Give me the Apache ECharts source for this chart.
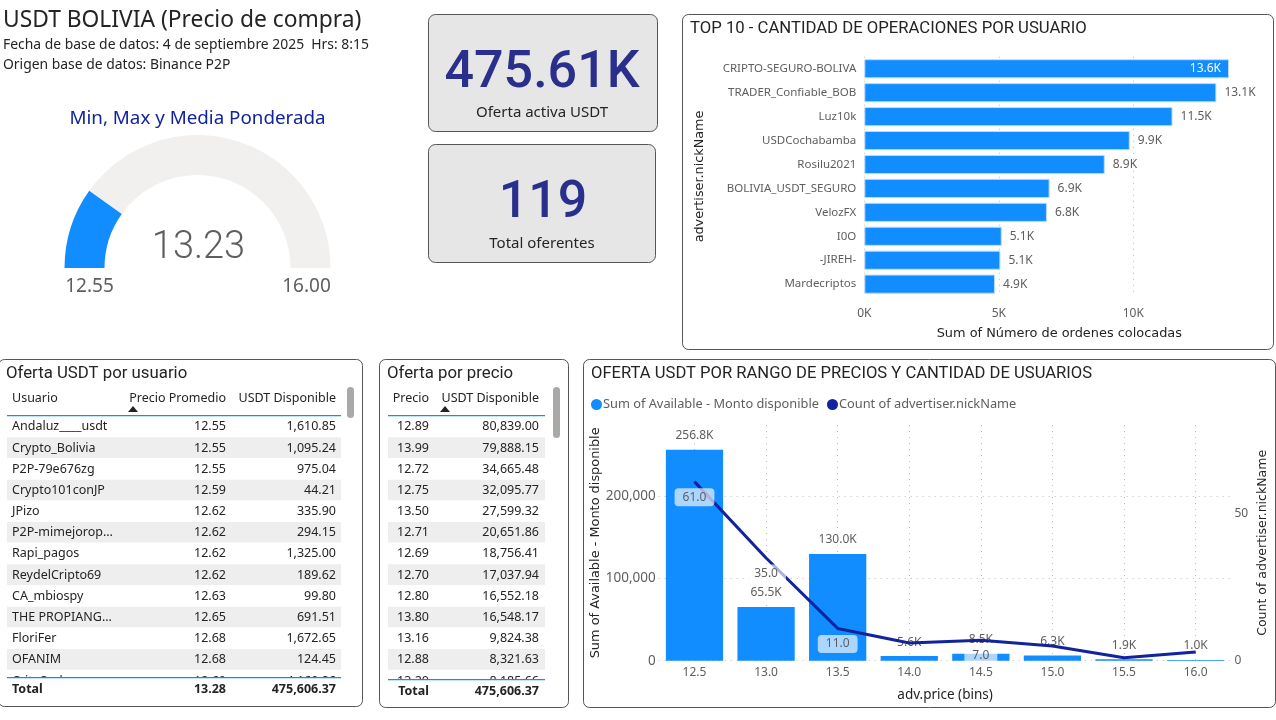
<!DOCTYPE html>
<html><head><meta charset="utf-8">
<style>html,body{margin:0;padding:0;background:#fff;overflow:hidden}#c{width:1276px;height:720px}</style>
<script src="https://cdn.jsdelivr.net/npm/echarts@6/dist/echarts.min.js"></script>
</head><body><div id="c"></div>
<script>
const topUsers = ['CRIPTO-SEGURO-BOLIVA','TRADER_Confiable_BOB','Luz10k','USDCochabamba','Rosilu2021','BOLIVIA_USDT_SEGURO','VelozFX','I0O','-JIREH-','Mardecriptos'];
const topOrders = [13560,13090,11460,9870,8940,6890,6790,5110,5060,4860];
const bins = ['12.5','13.0','13.5','14.0','14.5','15.0','15.5','16.0'];
const available = [256800,65500,130000,5600,8500,6300,1900,1000];
const counts = [61,35,11,6,7,5,1,3];
const countLabelShown = [true,true,true,false,true,false,false,false];
const gaugeMin = 12.55, gaugeMax = 16, gaugeValue = 13.23;
const userRows = [
 ['Andaluz____usdt','12.55','1,610.85'],['Crypto_Bolivia','12.55','1,095.24'],['P2P-79e676zg','12.55','975.04'],
 ['Crypto101conJP','12.59','44.21'],['JPizo','12.62','335.90'],['P2P-mimejorop...','12.62','294.15'],
 ['Rapi_pagos','12.62','1,325.00'],['ReydelCripto69','12.62','189.62'],['CA_mbiospy','12.63','99.80'],
 ['THE PROPIANG...','12.65','691.51'],['FloriFer','12.68','1,672.65'],['OFANIM','12.68','124.45'],['CritoSud','12.69','4,160.86']];
const priceRows = [
 ['12.89','80,839.00'],['13.99','79,888.15'],['12.72','34,665.48'],['12.75','32,095.77'],['13.50','27,599.32'],
 ['12.71','20,651.86'],['12.69','18,756.41'],['12.70','17,037.94'],['12.80','16,552.18'],['13.80','16,548.17'],
 ['13.16','9,824.38'],['12.88','8,321.63'],['13.20','8,185.66']];

const BODY = '"Noto Sans"', DIN = 'Roboto', WIDE = '"DejaVu Sans"';
const GREY = '#605E5C', DARK = '#252423', BLUE = '#118DFF', NAVY = '#12239E', KPI = '#2B2F8C';
const g = [];
function txt(text,x,y,size,color,o){o=o||{};g.push({type:'text',z:o.z||5,style:{text,x,y,fill:color,align:o.align||'left',verticalAlign:'middle',
  font:(o.weight||'normal')+' '+size+'px '+(o.family||BODY)}});}
function box(x,y,w,h,fill,stroke,r,z){g.push({type:'rect',z:z||1,shape:{x,y,width:w,height:h,r:r||0},style:{fill:fill,stroke:stroke||null,lineWidth:stroke?1:0}});}
function tri(cx,cy){g.push({type:'polygon',z:5,shape:{points:[[cx-5,cy+3],[cx+5,cy+3],[cx,cy-3]]},style:{fill:DARK}});}

// header text
txt('USDT BOLIVIA (Precio de compra)',3,20.5,22.8,DARK);
txt('Fecha de base de datos: 4 de septiembre 2025  Hrs: 8:15',3,45,13.9,DARK);
txt('Origen base de datos: Binance P2P',3,65,13.9,DARK);
txt('Min, Max y Media Ponderada',197.5,118.5,18.8,NAVY,{align:'center'});
txt(gaugeMin.toFixed(2),89.5,286.5,19,GREY,{align:'center'});
txt(gaugeMax.toFixed(2),306.5,286.5,19,GREY,{align:'center'});
// KPI cards
box(428.5,14.5,229,117,'#E6E6E6','#555',7);
box(428.5,144.5,227,118,'#E6E6E6','#555',7);
txt('475.61K',542,74,52,KPI,{align:'center',family:DIN,weight:'500'});
txt('Oferta activa USDT',542,113,15,DARK,{align:'center'});
txt('119',543,204,52,KPI,{align:'center',family:DIN,weight:'500'});
txt('Total oferentes',542,244,15,DARK,{align:'center'});
// panels
box(682.5,14.5,591,335,'#fff','#555',6);
box(-1.5,359.5,364,347,'#fff','#555',6);
box(379.5,359.5,189,348,'#fff','#555',6);
box(583.5,359.5,692,348,'#fff','#555',6);
txt('TOP 10 - CANTIDAD DE OPERACIONES POR USUARIO',690,29,16.7,DARK,{family:DIN});
txt('OFERTA USDT POR RANGO DE PRECIOS Y CANTIDAD DE USUARIOS',591,373.5,16.6,DARK,{family:DIN});
txt('Oferta USDT por usuario',6,374,16.8,DARK,{family:DIN});
txt('Oferta por precio',387,374,16.8,DARK,{family:DIN});
// tables
const rowY0 = 426.8, rowStep = 21.18;
function table(rows,x0,x1,cols,head,sortX,clipY,totalY,total,barX,barH){
  head.forEach((h,i)=>txt(h,cols[i].x,398,12.5,DARK,{align:cols[i].a}));
  tri(sortX,409);
  rows.forEach((r,i)=>{
    const y=rowY0+i*rowStep;
    if(i%2===1) box(x0,y-10.7,x1-x0,20.6,'#EEEEEE',null,0,2);
    r.forEach((c,j)=>txt(c,cols[j].x,y,12.5,DARK,{align:cols[j].a,z:3}));
  });
  box(x0-1,clipY,x1-x0+2,24,'#fff',null,0,4);
  box(x0,415,x1-x0,1.2,BLUE,null,0,5);
  box(x0,clipY,x1-x0,1.2,BLUE,null,0,5);
  total.forEach((c,j)=>txt(c,cols[j].x,totalY,12.5,DARK,{align:cols[j].a,weight:'bold'}));
  box(barX,387,7,barH,'#A9A9A9',null,3.5,5);
}
table(userRows,7,341,[{x:12,a:'left'},{x:226,a:'right'},{x:336,a:'right'}],['Usuario','Precio Promedio','USDT Disponible'],133,677,689.5,['Total','13.28','475,606.37'],347,31);
table(priceRows,388,545,[{x:429,a:'right'},{x:539,a:'right'}],['Precio','USDT Disponible'],445,679,691,['Total','475,606.37'],553,51);

const kFmt = v => (v/1000).toFixed(1)+'K';
const dotted = {show:true,lineStyle:{type:[1,5],color:'#BDBBB9',width:1}};
const option = {
  animation:false, backgroundColor:'#fff',
  textStyle:{fontFamily:BODY},
  graphic:{elements:g},
  legend:{left:586,top:393,icon:'circle',itemWidth:11,itemHeight:11,itemGap:8,
    data:['Sum of Available - Monto disponible','Count of advertiser.nickName'],
    textStyle:{color:GREY,fontSize:12.8,fontFamily:BODY,padding:[0,0,0,-4]}},
  grid:[
    {left:864.3,top:56.8,width:390,height:239.3},
    {left:658.7,top:425,width:572.7,height:235.7}
  ],
  xAxis:[
    {type:'value',gridIndex:0,z:3,min:0,max:14500,interval:5000,
     axisLabel:{showMaxLabel:false,color:GREY,fontSize:12,margin:11,formatter:v=>(v/1000)+'K'},
     axisLine:{show:false},axisTick:{show:false},splitLine:Object.assign({showMaxLine:false},dotted),
     name:'Sum of Número de ordenes colocadas',nameLocation:'middle',nameGap:31,
     nameTextStyle:{color:DARK,fontSize:12.9,fontFamily:WIDE}},
    {type:'category',gridIndex:1,z:3,data:bins,
     axisLabel:{color:GREY,fontSize:12,margin:6},axisLine:{show:false},axisTick:{show:false,alignWithLabel:true},
     splitLine:Object.assign({alignWithLabel:true},dotted),
     name:'adv.price (bins)',nameLocation:'middle',nameGap:27,nameTextStyle:{color:DARK,fontSize:13.5,fontFamily:BODY}}
  ],
  yAxis:[
    {type:'category',gridIndex:0,z:3,data:topUsers,inverse:true,
     axisLabel:{color:GREY,fontSize:11.5,margin:8},axisLine:{show:false},axisTick:{show:false},
     name:'advertiser.nickName',nameLocation:'middle',nameGap:158,
     nameTextStyle:{color:DARK,fontSize:12.8,fontFamily:WIDE}},
    {type:'value',gridIndex:1,z:3,min:0,max:287000,interval:100000,
     axisLabel:{showMaxLabel:false,color:GREY,fontSize:13.5,margin:3,formatter:v=>v.toLocaleString('en-US')},
     axisLine:{show:false},axisTick:{show:false},splitLine:Object.assign({showMaxLine:false},dotted),
     name:'Sum of Available - Monto disponible',nameLocation:'middle',nameGap:52,
     nameTextStyle:{color:DARK,fontSize:12.9,fontFamily:WIDE}},
    {type:'value',gridIndex:1,z:3,position:'right',min:0,max:80.3,interval:50,
     axisLabel:{showMaxLabel:false,color:GREY,fontSize:12,margin:3},
     axisLine:{show:false},axisTick:{show:false},splitLine:{show:false},
     name:'Count of advertiser.nickName',nameLocation:'middle',nameGap:25,
     nameTextStyle:{color:DARK,fontSize:12.5,fontFamily:WIDE}}
  ],
  series:[
    {type:'gauge',center:[197.5,268],radius:133,startAngle:180,endAngle:0,min:gaugeMin,max:gaugeMax,
     data:[{value:gaugeValue}],
     axisLine:{lineStyle:{width:40,color:[[(gaugeValue-gaugeMin)/(gaugeMax-gaugeMin),BLUE],[1,'#F1F0EF']]}},
     pointer:{show:false},axisTick:{show:false},splitLine:{show:false},axisLabel:{show:false},title:{show:false},
     detail:{offsetCenter:[1,-20],formatter:v=>v.toFixed(2),color:GREY,fontSize:38,fontWeight:300,fontFamily:'Roboto'}},
    {type:'bar',name:'Sum of Número de ordenes colocadas',xAxisIndex:0,yAxisIndex:0,barCategoryGap:'20%',z:4,
     data:topOrders.map((v,i)=>({value:v,label:i===0?{position:'insideRight',color:'#fff',distance:8}:{}})),
     itemStyle:{color:BLUE,borderColor:'#B9DCFF',borderWidth:1},
     label:{show:true,position:'right',distance:8,color:GREY,fontSize:12,formatter:p=>kFmt(p.value)}},
    {type:'bar',name:'Sum of Available - Monto disponible',xAxisIndex:1,yAxisIndex:1,barCategoryGap:'20%',
     data:available,itemStyle:{color:BLUE},z:4,
     label:{show:true,position:'top',distance:7,color:GREY,fontSize:12,backgroundColor:'rgba(255,255,255,0.65)',borderRadius:3,padding:[1,2],formatter:p=>kFmt(p.value)}},
    {type:'line',name:'Count of advertiser.nickName',xAxisIndex:1,yAxisIndex:2,z:5,
     data:counts.map((v,i)=>({value:v,label:{show:countLabelShown[i]}})),
     symbol:'circle',symbolSize:1,showAllSymbol:true,
     lineStyle:{color:NAVY,width:3},itemStyle:{color:NAVY},
     label:{position:'bottom',distance:6,color:GREY,fontSize:12,backgroundColor:'rgba(255,255,255,0.65)',borderRadius:4,padding:[3,8],formatter:p=>p.value.toFixed(1)}}
  ]
};
const chart = echarts.init(document.getElementById('c'),null,{renderer:'canvas',width:1276,height:720});
chart.setOption(option);
</script></body></html>
